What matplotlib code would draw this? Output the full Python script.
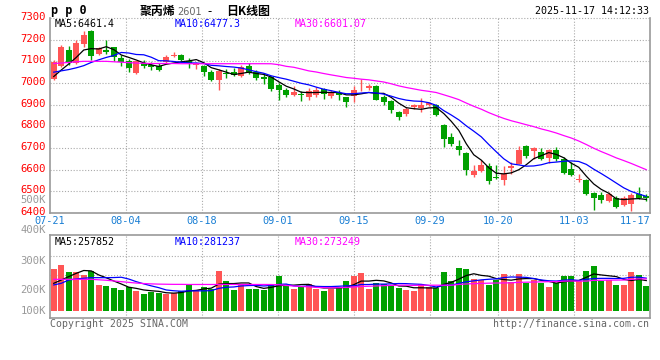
import pandas as pd
import matplotlib
matplotlib.use("Agg")
import matplotlib.pyplot as plt

# PP 2601 daily candles, 2025-07-21 .. 2025-11-17 (80 sessions)
opens = [7020, 7077, 7152, 7092, 7182, 7241, 7135, 7152, 7166, 7114,
         7100, 7046, 7094, 7084, 7080, 7095, 7126, 7131, 7100, 7085,
         7077, 7049, 7012, 7045, 7052, 7031, 7080, 7049, 7028, 7026,
         6992, 6969, 6943, 6949, 6935, 6946, 6972, 6942, 6954, 6934,
         6938, 6970, 6975, 6985, 6934, 6918, 6866, 6858, 6890, 6885,
         6898, 6897, 6805, 6749, 6711, 6678, 6574, 6592, 6618, 6568,
         6554, 6606, 6628, 6711, 6685, 6682, 6654, 6692, 6651, 6601,
         6553, 6552, 6491, 6482, 6456, 6468, 6436, 6440, 6486, 6479]
highs = [7105, 7174, 7169, 7200, 7242, 7246, 7166, 7197, 7168, 7131,
         7110, 7103, 7105, 7095, 7090, 7127, 7142, 7134, 7115, 7098,
         7085, 7062, 7065, 7065, 7069, 7082, 7092, 7058, 7040, 7031,
         7000, 6977, 6985, 6962, 6977, 6980, 6977, 6969, 6966, 6936,
         6985, 7020, 6995, 6992, 6943, 6922, 6872, 6889, 6905, 6930,
         6912, 6903, 6811, 6769, 6738, 6681, 6623, 6646, 6631, 6623,
         6615, 6635, 6711, 6712, 6703, 6700, 6695, 6703, 6657, 6634,
         6578, 6555, 6498, 6497, 6497, 6479, 6479, 6494, 6521, 6488]
lows = [7015, 7073, 7082, 7088, 7167, 7108, 7130, 7134, 7100, 7077,
        7049, 7043, 7069, 7059, 7054, 7092, 7118, 7100, 7069, 7066,
        7031, 7008, 6969, 7023, 7030, 7028, 7042, 7012, 6997, 6962,
        6920, 6935, 6938, 6915, 6923, 6935, 6928, 6931, 6923, 6888,
        6912, 6965, 6969, 6920, 6900, 6862, 6828, 6846, 6880, 6866,
        6895, 6846, 6703, 6708, 6666, 6577, 6565, 6588, 6535, 6557,
        6531, 6580, 6626, 6654, 6651, 6644, 6631, 6639, 6578, 6570,
        6543, 6482, 6415, 6448, 6450, 6421, 6430, 6410, 6463, 6456]
closes = [7095, 7168, 7091, 7185, 7223, 7126, 7160, 7144, 7118, 7099,
          7070, 7100, 7077, 7073, 7062, 7120, 7130, 7105, 7093, 7092,
          7049, 7015, 7055, 7040, 7036, 7074, 7046, 7023, 7020, 6974,
          6966, 6943, 6960, 6944, 6965, 6969, 6949, 6954, 6943, 6911,
          6969, 6973, 6985, 6923, 6911, 6874, 6842, 6880, 6900, 6897,
          6906, 6850, 6743, 6720, 6689, 6597, 6595, 6620, 6546, 6560,
          6582, 6618, 6692, 6662, 6700, 6651, 6689, 6650, 6585, 6575,
          6556, 6486, 6468, 6460, 6486, 6428, 6468, 6482, 6468, 6467]
# volume, thousand lots
volumes = [358, 395, 333, 333, 307, 341, 222, 213, 196, 179,
           205, 171, 145, 162, 154, 145, 154, 171, 230, 179,
           205, 188, 341, 256, 179, 230, 188, 188, 179, 222,
           299, 213, 188, 205, 230, 188, 171, 188, 205, 256,
           301, 324, 188, 239, 230, 213, 196, 179, 171, 230,
           205, 196, 333, 256, 367, 358, 273, 264, 222, 264,
           316, 247, 316, 239, 264, 239, 205, 239, 299, 299,
           256, 341, 384, 256, 264, 222, 222, 333, 307, 213]

date_labels = ["07-21", "08-04", "08-18", "09-01", "09-15", "09-29", "10-20", "11-03", "11-17"]
date_index = [0, 10, 20, 30, 40, 50, 59, 69, 79]

# MA values at the start of the window (history before 07-21 not shown)
ma5_head = [7030, 7060, 7088, 7118]
ma10_head = [7050, 7056, 7062, 7070, 7080, 7095, 7107, 7118, 7127]
ma30_head = [7090, 7092, 7095, 7098, 7100, 7100, 7100, 7100, 7098, 7096,
             7094, 7092, 7091, 7090, 7090, 7090, 7090, 7089, 7089, 7089,
             7089, 7089, 7089, 7089, 7089, 7089, 7089, 7089, 7089]
vma5_head = [236, 264, 293, 321]
vma10_head = [222, 236, 264, 273, 279, 284, 284, 284, 285]
vma30_head = [270, 270, 270, 270, 270, 270, 266, 262, 256, 250,
              244, 238, 234, 231, 229, 228, 227, 227, 226, 226,
              226, 226, 226, 226, 226, 226, 226, 226, 226]

RED = "#ff5555"
GREEN = "#00a000"
GRID = "#aaaaaa"
EDGE = "#999999"
MONO = "DejaVu Sans Mono"
CJK = ["Noto Sans CJK SC", "DejaVu Sans"]


def moving(values, n, head):
    s = pd.Series(values, dtype=float).rolling(n).mean()
    s.iloc[:len(head)] = head
    return s


df = pd.DataFrame({"o": opens, "h": highs, "l": lows, "c": closes, "v": volumes})
x = df.index.values
up = df.c >= df.o
colors = [RED if u else GREEN for u in up]

W, H = 660, 360
fig = plt.figure(figsize=(6.6, 3.6), dpi=100)


def box(l, t, r, b):
    return [l / W, 1 - b / H, (r - l) / W, (b - t) / H]


ax = fig.add_axes(box(50, 18, 650, 213))
axv = fig.add_axes(box(50, 235, 650, 318))

grid_x = [i * 80 / 79 - 0.5 for i in date_index]
for a in (ax, axv):
    a.set_xlim(-0.5, 79.5)
    a.set_xticks([])
    a.set_yticks([])
    for s in a.spines.values():
        s.set_color(EDGE)
        s.set_linewidth(1.2)
    for gx in grid_x[1:-1]:
        a.axvline(gx, color=GRID, lw=0.8, ls=(0, (1, 1.6)), zorder=0)

# price panel
ax.set_ylim(6400, 7300)
ax.spines["top"].set_visible(False)
for v in range(6500, 7301, 100):
    ax.axhline(v, color=GRID, lw=0.8, ls=(0, (1, 1.6)), zorder=0, clip_on=False)

body = (df.c - df.o).abs().clip(lower=3)
ax.vlines(x, df.l, df.h, colors=colors, lw=1.0, zorder=2)
ax.bar(x, body, bottom=df[["o", "c"]].min(axis=1), width=0.8, color=colors, lw=0, zorder=3)

ax.plot(x, moving(closes, 5, ma5_head), color="black", lw=0.9, zorder=4)
ax.plot(x, moving(closes, 10, ma10_head), color="#0000ff", lw=0.9, zorder=4)
ax.plot(x, moving(closes, 30, ma30_head), color="#ff00ff", lw=0.9, zorder=4)

for v in range(6400, 7301, 100):
    ax.annotate(str(v), xy=(0, v), xycoords=("axes fraction", "data"),
                xytext=(-4, -2), textcoords="offset pixels", ha="right", va="baseline",
                color="#ff0000", fontsize=7.6, family=MONO, annotation_clip=False)

for gx, lab in zip(grid_x, date_labels):
    ha = "right" if lab == date_labels[-1] else "center"
    xx = 79.5 if lab == date_labels[-1] else gx
    ax.annotate(lab, xy=(xx, 0), xycoords=("data", "axes fraction"),
                xytext=(0, -8), textcoords="offset pixels", ha=ha, va="center",
                color="#1a7fd4", fontsize=7.4, family=MONO, annotation_clip=False)

ax.text(5 / 600, 1 - 6 / 195, "MA5:6461.4", transform=ax.transAxes, va="center",
        color="black", fontsize=7.2, family=MONO)
ax.text(125 / 600, 1 - 6 / 195, "MA10:6477.3", transform=ax.transAxes, va="center",
        color="#0000ff", fontsize=7.2, family=MONO)
ax.text(245 / 600, 1 - 6 / 195, "MA30:6601.07", transform=ax.transAxes, va="center",
        color="#ff00ff", fontsize=7.2, family=MONO)

# volume panel
axv.set_ylim(-60, 648)
for v in (307, 469):
    axv.axhline(v, color=GRID, lw=0.8, ls=(0, (1, 1.6)), zorder=0)
axv.bar(x, df.v, width=0.8, color=colors, lw=0, zorder=2)
axv.plot(x, moving(volumes, 5, vma5_head), color="black", lw=0.9, zorder=4)
axv.plot(x, moving(volumes, 10, vma10_head), color="#0000ff", lw=0.9, zorder=4)
axv.plot(x, moving(volumes, 30, vma30_head), color="#ff00ff", lw=0.9, zorder=4)

axv.text(5 / 600, 1 - 7 / 83, "MA5:257852", transform=axv.transAxes, va="center",
         color="black", fontsize=7.2, family=MONO)
axv.text(125 / 600, 1 - 7 / 83, "MA10:281237", transform=axv.transAxes, va="center",
         color="#0000ff", fontsize=7.2, family=MONO)
axv.text(245 / 600, 1 - 7 / 83, "MA30:273249", transform=axv.transAxes, va="center",
         color="#ff00ff", fontsize=7.2, family=MONO)

for lab, yy in [("500K", 200), ("400K", 230), ("300K", 261), ("200K", 290), ("100K", 311)]:
    fig.text(46 / W, 1 - yy / H, lab, ha="right", va="center", color="#999999",
             fontsize=7.6, family=MONO)

# header / footer
fig.text(51 / W, 1 - 14 / H, "p p 0", ha="left", va="baseline", fontsize=8.5,
         weight="bold", family=MONO)
fig.text(140 / W, 1 - 15 / H, "聚丙烯", ha="left", va="baseline", fontsize=8.6,
         weight="bold", family=CJK)
fig.text(177 / W, 1 - 15 / H, "2601", ha="left", va="baseline", fontsize=7, color="#666666",
         family="DejaVu Sans")
fig.text(207 / W, 1 - 15 / H, "-", ha="left", va="baseline", fontsize=8.6, family=CJK)
fig.text(226 / W, 1 - 15 / H, "日K线图", ha="left", va="baseline", fontsize=8.6,
         weight="bold", family=CJK)
fig.text(649 / W, 1 - 14 / H, "2025-11-17 14:12:33", ha="right", va="baseline",
         fontsize=7.2, family=MONO)
fig.text(50 / W, 1 - 324 / H, "Copyright 2025 SINA.COM", ha="left", va="center",
         fontsize=7.1, family=MONO, color="#666666")
fig.text(649 / W, 1 - 324 / H, "http://finance.sina.com.cn", ha="right", va="center",
         fontsize=7.1, family=MONO, color="#666666")

fig.savefig("out.png", dpi=100, facecolor="white")
